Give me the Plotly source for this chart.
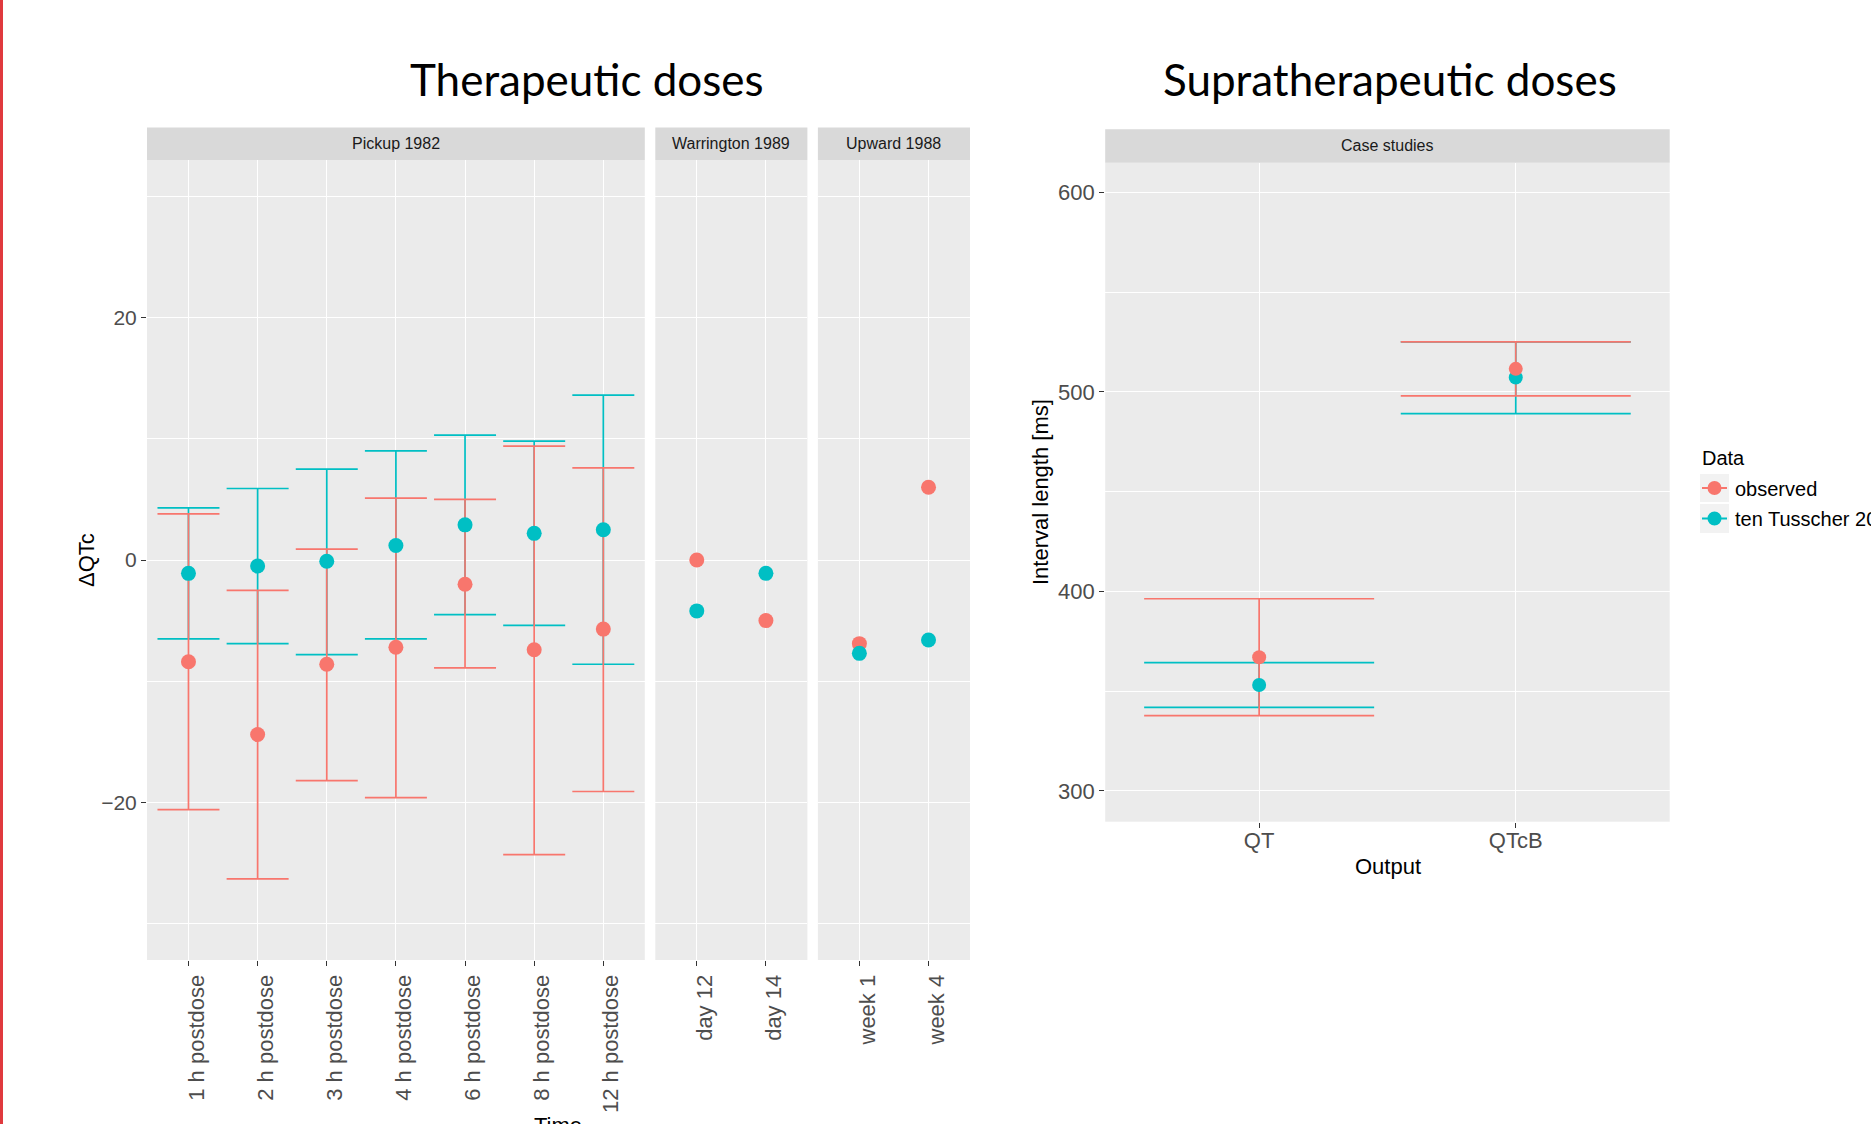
import plotly.graph_objects as go

# ---------------- data ----------------
pickup_cats = ["1 h postdose", "2 h postdose", "3 h postdose", "4 h postdose",
               "6 h postdose", "8 h postdose", "12 h postdose"]
pickup_obs = [-8.4, -14.4, -8.6, -7.2, -2.0, -7.4, -5.7]
pickup_obs_lo = [-20.6, -26.3, -18.2, -19.6, -8.9, -24.3, -19.1]
pickup_obs_hi = [3.8, -2.5, 0.9, 5.1, 5.0, 9.4, 7.6]
pickup_mod = [-1.1, -0.5, -0.1, 1.2, 2.9, 2.2, 2.5]
pickup_mod_lo = [-6.5, -6.9, -7.8, -6.5, -4.5, -5.4, -8.6]
pickup_mod_hi = [4.3, 5.9, 7.5, 9.0, 10.3, 9.8, 13.6]

warr_cats = ["day 12", "day 14"]
warr_obs = [0.0, -5.0]
warr_mod = [-4.2, -1.1]

upward_cats = ["week 1", "week 4"]
upward_obs = [-6.9, 6.0]
upward_mod = [-7.7, -6.6]

case_cats = ["QT", "QTcB"]
case_obs = [367.0, 511.5]
case_obs_lo = [337.8, 498.0]
case_obs_hi = [396.3, 525.0]
case_mod = [353.1, 507.2]
case_mod_lo = [341.9, 489.1]
case_mod_hi = [364.3, 525.0]

series_names = ["observed", "ten Tusscher 20"]

# ---------------- style ----------------
RED = "#F8766D"
CYAN = "#00BFC4"
W, H = 1871, 1124
GG = "Liberation Sans, Arial, sans-serif"
SLIDE = "Lato, Carlito, Calibri, sans-serif"


def px(x):
    return x / W


def py(y):
    return 1 - y / H


fig = go.Figure()


def errbar_trace(cats, mid, lo, hi, color, xa, ya, halfw):
    return go.Scatter(
        x=cats, y=mid, mode="markers", xaxis=xa, yaxis=ya,
        marker=dict(size=1, opacity=0, color=color),
        error_y=dict(type="data", symmetric=False,
                     array=[h - m for h, m in zip(hi, mid)],
                     arrayminus=[m - l for m, l in zip(mid, lo)],
                     color=color, thickness=1.7, width=halfw),
        hoverinfo="skip", showlegend=False)


def point_trace(cats, vals, color, xa, ya, name, size=15):
    return go.Scatter(x=cats, y=vals, mode="markers", xaxis=xa, yaxis=ya,
                      marker=dict(size=size, color=color, line=dict(width=0)),
                      name=name, showlegend=False)


# Pickup panel
fig.add_trace(errbar_trace(pickup_cats, pickup_mod, pickup_mod_lo, pickup_mod_hi, CYAN, "x", "y", 31))
fig.add_trace(errbar_trace(pickup_cats, pickup_obs, pickup_obs_lo, pickup_obs_hi, RED, "x", "y", 31))
fig.add_trace(point_trace(pickup_cats, pickup_obs, RED, "x", "y", series_names[0]))
fig.add_trace(point_trace(pickup_cats, pickup_mod, CYAN, "x", "y", series_names[1]))
# Warrington
fig.add_trace(point_trace(warr_cats, warr_obs, RED, "x2", "y2", series_names[0]))
fig.add_trace(point_trace(warr_cats, warr_mod, CYAN, "x2", "y2", series_names[1]))
# Upward
fig.add_trace(point_trace(upward_cats, upward_obs, RED, "x3", "y3", series_names[0]))
fig.add_trace(point_trace(upward_cats, upward_mod, CYAN, "x3", "y3", series_names[1]))
# Case studies
fig.add_trace(errbar_trace(case_cats, case_mod, case_mod_lo, case_mod_hi, CYAN, "x4", "y4", 115))
fig.add_trace(errbar_trace(case_cats, case_obs, case_obs_lo, case_obs_hi, RED, "x4", "y4", 115))
fig.add_trace(point_trace(case_cats, case_mod, CYAN, "x4", "y4", series_names[1], 14))
fig.add_trace(point_trace(case_cats, case_obs, RED, "x4", "y4", series_names[0], 14))

# ---------------- axes ----------------
L_TOP, L_BOT = 160, 960
R_TOP, R_BOT = 162.7, 821.7
pick_x = (147, 644.8)
warr_x = (655.3, 807.4)
upw_x = (817.9, 970)
case_x = (1105.2, 1669.7)

tickfont = dict(family=GG, size=21, color="#4D4D4D")
common_x = dict(type="category", showgrid=True, gridcolor="white", gridwidth=1.4,
                zeroline=False, showline=False, ticks="outside", ticklen=5,
                tickwidth=1.3, tickcolor="#333333", tickfont=dict(family=GG, size=22, color="#4D4D4D"),
                fixedrange=True)
common_y = dict(showgrid=True, gridcolor="white", gridwidth=1.4, zeroline=False,
                showline=False, ticks="outside", ticklen=5, tickwidth=1.3,
                tickcolor="#333333", tickfont=tickfont, fixedrange=True)

ly_dom = [py(L_BOT), py(L_TOP)]
minor_l = dict(dtick=10, tick0=0, showgrid=True, gridcolor="white", gridwidth=0.7, ticks="")
fig.update_layout(
    xaxis=dict(common_x, domain=[px(pick_x[0]), px(pick_x[1])], anchor="y",
               range=[-0.6, len(pickup_cats) - 0.4], tickangle=-90, ticklabelshift=8),
    xaxis2=dict(common_x, domain=[px(warr_x[0]), px(warr_x[1])], anchor="y2",
                range=[-0.6, len(warr_cats) - 0.4], tickangle=-90, ticklabelshift=8),
    xaxis3=dict(common_x, domain=[px(upw_x[0]), px(upw_x[1])], anchor="y3",
                range=[-0.6, len(upward_cats) - 0.4], tickangle=-90, ticklabelshift=8),
    xaxis4=dict(common_x, domain=[px(case_x[0]), px(case_x[1])], anchor="y4",
                range=[-0.6, len(case_cats) - 0.4], tickangle=0, ticklabelstandoff=-6),
    yaxis=dict(common_y, domain=ly_dom, anchor="x", range=[-33, 33], dtick=20, tick0=0,
               minor=minor_l),
    yaxis2=dict(common_y, domain=ly_dom, anchor="x2", range=[-33, 33], dtick=20, tick0=0,
                showticklabels=False, ticks="", minor=minor_l),
    yaxis3=dict(common_y, domain=ly_dom, anchor="x3", range=[-33, 33], dtick=20, tick0=0,
                showticklabels=False, ticks="", minor=minor_l),
    yaxis4=dict(common_y, domain=[py(R_BOT), py(R_TOP)], anchor="x4", range=[284.6, 614.8],
                dtick=100, tick0=0, tickfont=dict(family=GG, size=22, color="#4D4D4D"),
                minor=dict(dtick=50, tick0=0, showgrid=True, gridcolor="white", gridwidth=0.7, ticks="")),
)

# ---------------- shapes ----------------
shapes = []
shapes.append(dict(type="rect", xref="paper", yref="paper", x0=0, x1=px(3), y0=0, y1=1,
                   fillcolor="#E0393E", line=dict(width=0), layer="above"))
for (x0, x1), (t, b) in [(pick_x, (127.5, 160)), (warr_x, (127.5, 160)), (upw_x, (127.5, 160)),
                         (case_x, (129.3, 162.7))]:
    shapes.append(dict(type="rect", xref="paper", yref="paper", x0=px(x0), x1=px(x1),
                       y0=py(b), y1=py(t), fillcolor="#D9D9D9", line=dict(width=0), layer="below"))

key_rows = [(474, 502, 488, RED), (504, 533, 518.5, CYAN)]
for t, b, c, col in key_rows:
    shapes.append(dict(type="rect", xref="paper", yref="paper", x0=px(1700), x1=px(1729),
                       y0=py(b), y1=py(t), fillcolor="#F2F2F2", line=dict(width=0)))
    shapes.append(dict(type="line", xref="paper", yref="paper", x0=px(1702), x1=px(1727),
                       y0=py(c), y1=py(c), line=dict(color=col, width=2)))
    shapes.append(dict(type="circle", xref="paper", yref="paper", x0=px(1714.5 - 7), x1=px(1714.5 + 7),
                       y0=py(c + 7), y1=py(c - 7), fillcolor=col, line=dict(width=0)))

# ---------------- annotations ----------------
ann = []


def text(x, y, s, size, color="black", family=GG, xanchor="center", yanchor="middle", angle=0):
    ann.append(dict(x=px(x), y=py(y), xref="paper", yref="paper", text=s, showarrow=False,
                    font=dict(family=family, size=size, color=color), xanchor=xanchor,
                    yanchor=yanchor, textangle=angle))


text(587, 79, "Therapeutic doses", 44, family=SLIDE)
text(1389.5, 79, "Supratherapeutic doses", 44, family=SLIDE)
text((pick_x[0] + pick_x[1]) / 2, 143.8, "Pickup 1982", 16, color="#1A1A1A")
text((warr_x[0] + warr_x[1]) / 2, 143.8, "Warrington 1989", 16, color="#1A1A1A")
text((upw_x[0] + upw_x[1]) / 2, 143.8, "Upward 1988", 16, color="#1A1A1A")
text((case_x[0] + case_x[1]) / 2, 146, "Case studies", 16, color="#1A1A1A")
text(86, 560, "ΔQTc", 22, angle=-90)
text(1040, 492, "Interval length [ms]", 22, angle=-90)
text(1387.6, 866, "Output", 22)
text(558, 1111, "Time", 22, yanchor="top")
text(1700, 458, "Data", 20, xanchor="left")
text(1733, 489, series_names[0], 20, xanchor="left")
text(1733, 519, series_names[1], 20, xanchor="left")

fig.update_layout(
    width=W, height=H, margin=dict(l=0, r=0, t=0, b=0),
    paper_bgcolor="white", plot_bgcolor="#EBEBEB",
    shapes=shapes, annotations=ann, showlegend=False,
)

fig.write_html("out.html", config={"displayModeBar": False},
               post_script="document.body.style.margin='0';document.body.style.overflow='hidden';")
